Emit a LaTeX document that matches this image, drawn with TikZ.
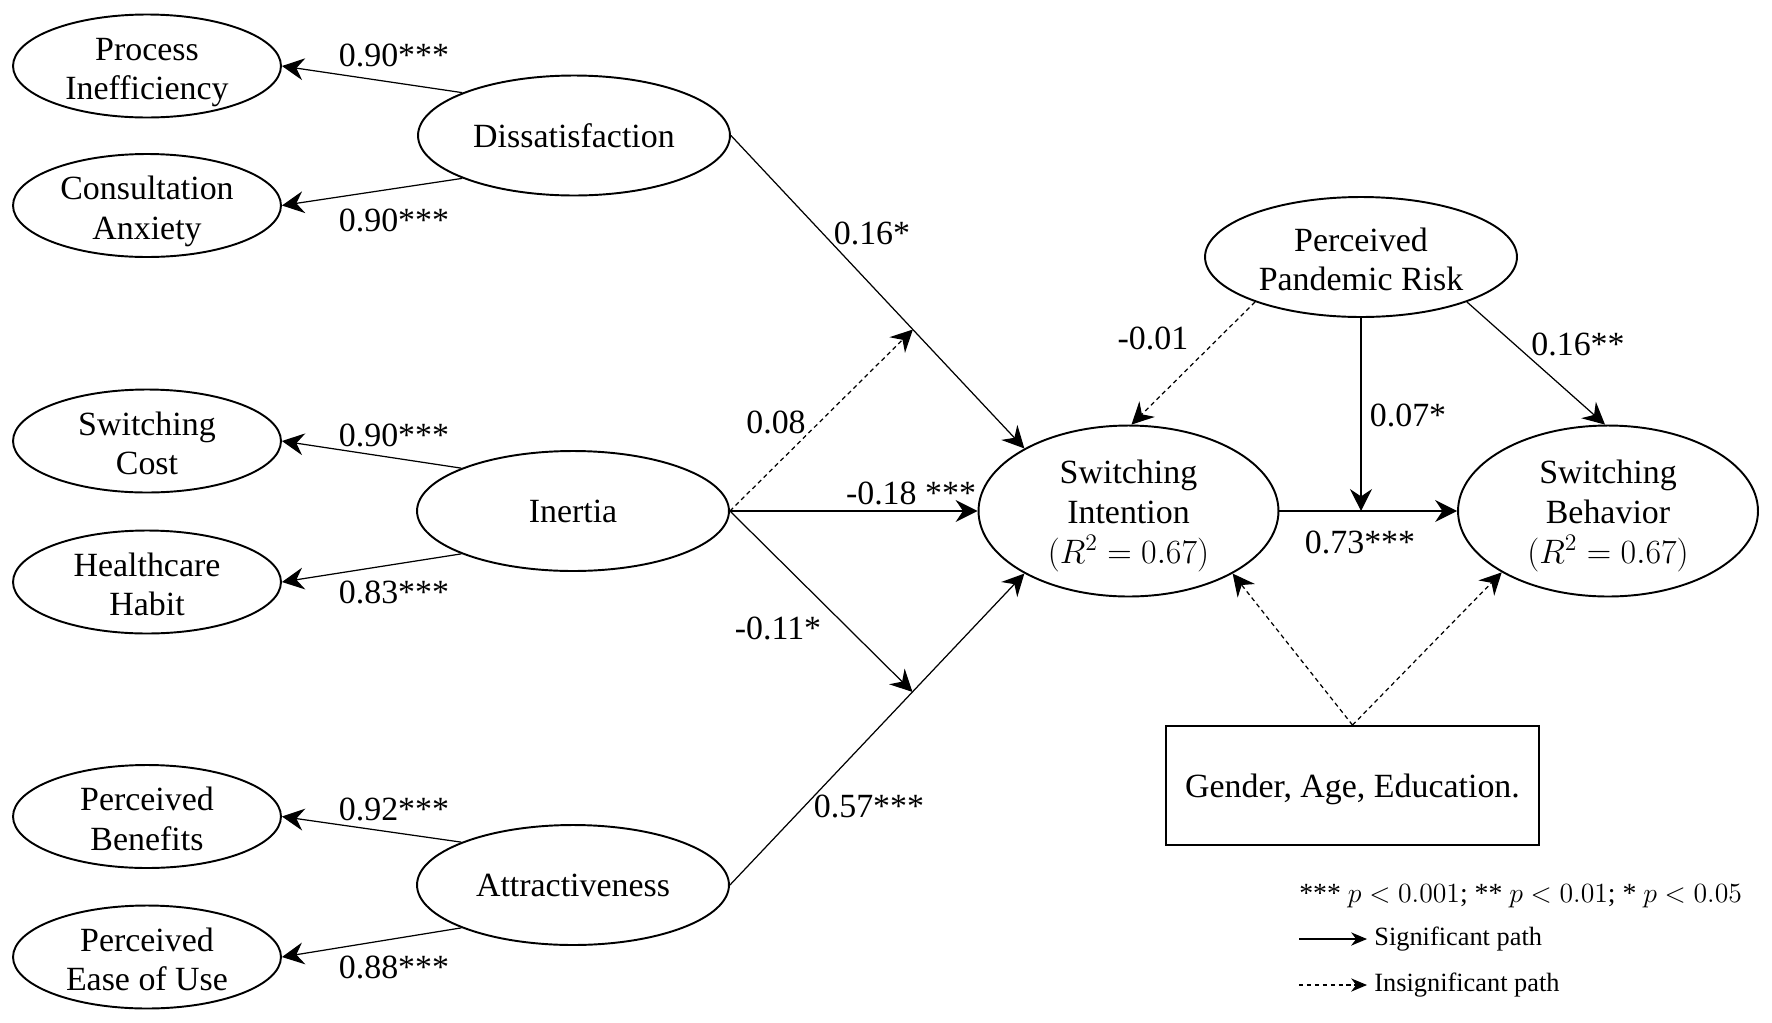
\documentclass[tikz,border=0pt]{standalone}
\usepackage{fix-cm}
\usepackage{amsmath}
\usepackage{fontspec}
\setmainfont{Liberation Serif}
\usetikzlibrary{shapes.geometric,arrows.meta}

\newcommand{\figfont}{\fontsize{19.3}{22.7}\selectfont}
\newcommand{\legfont}{\fontsize{15}{18}\selectfont}
\newcommand{\pvalfont}{\fontsize{15.8}{19}\selectfont}

\tikzset{
  twolines/.style={text height=39.8pt, text depth=1.2pt},
  threelines/.style={text height=62pt, text depth=2.7pt},
  indic/.style={ellipse, draw, line width=1.1pt, minimum width=5.36cm, minimum height=2.06cm, inner sep=0pt, align=center, twolines},
  constr/.style={ellipse, draw, line width=1.1pt, minimum width=6.24cm, minimum height=2.4cm, inner sep=0pt, align=center},
  outcome/.style={ellipse, draw, line width=1.1pt, minimum width=6cm, minimum height=3.42cm, inner sep=0pt, align=center, threelines},
  sigpath/.style={-{Stealth[length=12.5pt,width=12.5pt,inset=4.2pt]}, line width=0.7pt},
  insigpath/.style={sigpath, dash pattern=on 2.5pt off 2pt},
  legsig/.style={-{Stealth[length=9pt,width=7.5pt,inset=2.8pt]}, line width=0.7pt},
  leginsig/.style={legsig, dash pattern=on 2.5pt off 2pt}
}

\begin{document}
\begin{tikzpicture}[x=0.02cm,y=-0.02cm,font=\figfont]
\useasboundingbox (0,0) rectangle (1772,1022);

% indicators
\node[indic] (proc) at (147,66) {Process\\Inefficiency};
\node[indic] (cons) at (147,205.5) {Consultation\\Anxiety};
\node[indic] (cost) at (147,441) {Switching\\Cost};
\node[indic] (habit) at (147,582) {Healthcare\\Habit};
\node[indic] (bene) at (147,816.5) {Perceived\\Benefits};
\node[indic] (ease) at (147,957) {Perceived\\Ease of Use};

% constructs
\node[constr] (dis) at (574,135.5) {Dissatisfaction};
\node[constr] (iner) at (573,511) {Inertia};
\node[constr] (attr) at (573,885) {Attractiveness};
\node[constr, twolines] (risk) at (1361,257) {Perceived\\Pandemic Risk};
\node[outcome] (si) at (1128.5,511) {Switching\\Intention\\$(R^2 = 0.67)$};
\node[outcome] (sb) at (1608,511) {Switching\\Behavior\\$(R^2 = 0.67)$};
\node[draw, line width=1.1pt, minimum width=7.46cm, minimum height=2.38cm, text height=13.5pt, text depth=0pt] (ctrl) at (1352.5,785.5) {Gender, Age, Education.};

% loadings
\draw[sigpath] (dis.159) -- (proc.east);
\draw[sigpath] (dis.201) -- (cons.east);
\draw[sigpath] (iner.159) -- (cost.east);
\draw[sigpath] (iner.201) -- (habit.east);
\draw[sigpath] (attr.159) -- (bene.east);
\draw[sigpath] (attr.201) -- (ease.east);

\node (l1) at (394,55) {0.90***};
\node (l2) at (394,220) {0.90***};
\node (l3) at (394,435) {0.90***};
\node (l4) at (394,592) {0.83***};
\node (l5) at (394,809) {0.92***};
\node (l6) at (394,967) {0.88***};

% structural paths
\draw[sigpath] (dis.east) -- (si.149) coordinate[pos=0.62] (mdis);
\draw[sigpath] (attr.east) -- (si.211) coordinate[pos=0.62] (mattr);
\draw[insigpath] (iner.east) -- (mdis);
\draw[sigpath] (iner.east) -- (mattr);
\draw[sigpath] (iner.east) -- (si.west);
\coordinate (mrisk) at (risk.south |- si.east);
\draw[line width=0.7pt] (si.east) -- (mrisk);
\draw[sigpath] (mrisk) -- (sb.west);
\draw[sigpath] (risk.south) -- (mrisk);
\draw[insigpath] (risk.203) -- (si.88);
\draw[sigpath] (risk.-23) -- (sb.92);
\draw[insigpath] (ctrl.north) -- (si.-31);
\draw[insigpath] (ctrl.north) -- (sb.210);

\node (p1) at (872,233) {0.16*};
\node (p2) at (776,422) {0.08};
\node (p3) at (911,493) {-0.18 ***};
\node (p4) at (778,628) {-0.11*};
\node (p5) at (869,806.5) {0.57***};
\node (p6) at (1153,338) {-0.01};
\node (p7) at (1408,415) {0.07*};
\node (p8) at (1578,344) {0.16**};
\node (p9) at (1360,542) {0.73***};

% legend
\node[anchor=base west, inner sep=0pt, font=\pvalfont] (pval) at (1299,902) {*** $p<0.001$; ** $p<0.01$; * $p<0.05$};
\coordinate (s1) at (1299,939);
\coordinate (s2) at (1367,939);
\coordinate (d1) at (1299,985);
\coordinate (d2) at (1367,985);
\draw[legsig] (s1) -- (s2);
\draw[leginsig] (d1) -- (d2);
\node[anchor=west, inner sep=0pt, font=\legfont] (sigtxt) at (1374,939) {Significant path};
\node[anchor=west, inner sep=0pt, font=\legfont] (insigtxt) at (1374,985) {Insignificant path};
\end{tikzpicture}
\end{document}
